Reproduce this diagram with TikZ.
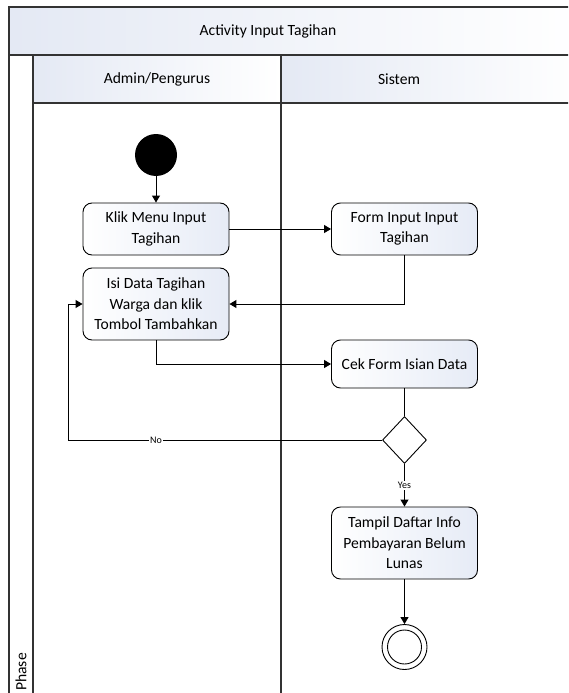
\documentclass[tikz,border=0pt]{standalone}
\usepackage{fontspec}
\setmainfont{Carlito}
\usetikzlibrary{shapes.geometric,arrows.meta}
\definecolor{hdr}{HTML}{E4E9F4}
\definecolor{boxfill}{HTML}{E6EBF6}
\definecolor{frame}{HTML}{333333}
\tikzset{
  act/.style={draw=black, line width=0.9pt, rounded corners=9pt, minimum width=146pt,
    align=center, inner sep=0pt, left color=white, right color=boxfill,
    font=\fontsize{15.6}{20.5}\selectfont},
  flow/.style={-{Triangle[length=7pt,width=8pt]}, line width=1pt},
  plain/.style={line width=1pt},
  lbl/.style={fill=white, inner sep=1pt, font=\fontsize{10}{12}\selectfont},
  startnode/.style={circle, fill=black, minimum size=42pt, inner sep=0pt},
  endnode/.style={circle, draw=black, line width=0.9pt, fill=white, minimum size=45pt, inner sep=0pt},
  decision/.style={diamond, draw=black, line width=0.9pt, fill=white, minimum width=44pt, minimum height=47pt, inner sep=0pt},
  hdrtext/.style={font=\fontsize{15.6}{18}\selectfont},
  framel/.style={draw=frame, line width=1.1pt}
}
\begin{document}
\begin{tikzpicture}[x=1pt,y=-1pt]
\useasboundingbox (0,0) rectangle (568,693);
\begin{scope}
\clip (0,0) rectangle (568,693);
% header bands
\shade[left color=hdr, right color=white] (9,7) rectangle (580,55);
\shade[left color=hdr, right color=white] (33,55) rectangle (281,103);
\shade[left color=hdr, right color=white] (281,55) rectangle (580,103);
% frame lines
\draw[framel] (580,7) -- (9,7) -- (9,700);
\draw[framel] (9,55) -- (580,55);
\draw[framel] (33,103) -- (580,103);
\draw[framel] (33,55) -- (33,700);
\draw[framel] (281,55) -- (281,700);
\end{scope}
\node[hdrtext] (title) at (268,31) {Activity Input Tagihan};
\node[hdrtext] (lane1) at (157,79) {Admin/Pengurus};
\node[hdrtext] (lane2) at (399,79) {Sistem};
\node[hdrtext, rotate=90] (phase) at (21,672) {Phase};
% nodes
\node[startnode] (start) at (156,155) {};
\node[act, minimum height=52pt] (klik) at (156,229) {Klik Menu Input\\Tagihan};
\node[act, minimum height=52pt] (form) at (404.5,229) {Form Input Input\\Tagihan};
\node[act, minimum height=72pt] (isi) at (156,304) {Isi Data Tagihan\\Warga dan klik\\Tombol Tambahkan};
\node[act, minimum height=48pt] (cek) at (404.5,364) {Cek Form Isian Data};
\node[decision] (dec) at (404.5,440) {};
\node[act, minimum height=72pt] (tampil) at (404.5,543) {Tampil Daftar Info\\Pembayaran Belum\\Lunas};
\node[endnode] (end) at (404.5,647) {};
\draw[line width=0.9pt] (end.center) circle (17pt);
\coordinate (nocorner) at (68,440);
% edges
\draw[flow] (start) -- (klik);
\draw[flow] (klik) -- (form);
\draw[flow] (form.south) |- (isi.east);
\draw[flow] (isi.south) |- (cek.west);
\draw[plain] (cek) -- (dec);
\draw[flow] (dec.west) -- node[lbl, pos=0.72] {No} (nocorner) |- (isi.west);
\draw[flow] (dec.south) -- node[lbl] {Yes} (tampil.north);
\draw[flow] (tampil) -- (end);
\end{tikzpicture}
\end{document}
